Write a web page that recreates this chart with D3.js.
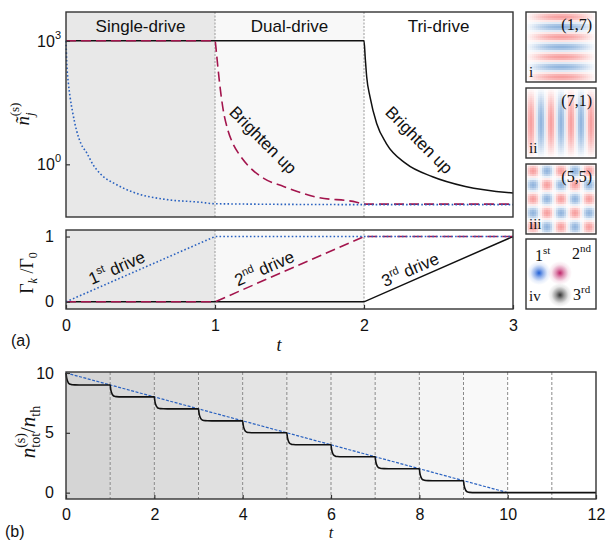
<!DOCTYPE html>
<html>
<head>
<meta charset="utf-8">
<script src="https://cdn.jsdelivr.net/npm/d3@7"></script>
<style>
  html, body { margin: 0; padding: 0; background: #fff; }
  svg { display: block; }
  text { font-family: "Liberation Sans", Arial, sans-serif; fill: #111; }
  .serif { font-family: "Liberation Serif", "DejaVu Serif", serif; }
</style>
</head>
<body>
<script>
// ---------- data ----------
// (a) upper: occupation of each mode vs. time (log scale)
const mode1T = [0, 0.005, 0.016, 0.027, 0.045, 0.07, 0.1, 0.139, 0.18, 0.228, 0.34, 0.45, 0.67, 0.9, 1, 2, 3];
const mode1N = [1000, 300, 93, 44, 18, 6.8, 3.2, 1.9, 1.0, 0.6, 0.32, 0.21, 0.14, 0.12, 0.11, 0.105, 0.105];
const mode2T = [0, 1, 1.01, 1.019, 1.035, 1.055, 1.085, 1.12, 1.17, 1.23, 1.33, 1.46, 1.68, 1.95, 2, 3];
const mode2N = [1000, 1000, 500, 234, 70, 21, 7, 3.2, 1.6, 0.87, 0.45, 0.29, 0.16, 0.12, 0.108, 0.108];
const mode3T = [0, 2, 2.008, 2.018, 2.04, 2.085, 2.15, 2.28, 2.46, 2.68, 3];
const mode3N = [1000, 1000, 400, 134, 44, 9.8, 3.2, 1.05, 0.5, 0.29, 0.2];

// (a) lower: drive strengths
const drive1T = [0, 1, 3];      const drive1G = [0, 1, 1];
const drive2T = [0, 1, 2, 3];   const drive2G = [0, 0, 1, 1];
const drive3T = [0, 2, 3];      const drive3G = [0, 0, 1];

const regionLabels = ["Single-drive", "Dual-drive", "Tri-drive"];
const regionFills = ["#e8e8e8", "#f8f8f8", "#ffffff"];

// mode patterns shown in the insets
const insetModes = [[1, 7], [7, 1], [5, 5]];
const insetTags = ["i", "ii", "iii"];

// (b) total occupation staircase
const stepStarts = [0, 1, 2, 3, 4, 5, 6, 7, 8, 9];
const stepLevels = [10, 9, 8, 7, 6, 5, 4, 3, 2, 1, 0];
const dropOffsets = [0, 0.01, 0.02, 0.035, 0.05, 0.07, 0.1, 0.14, 0.2, 0.3];
const dropFractions = [0, 0.3, 0.5, 0.68, 0.8, 0.89, 0.95, 0.98, 0.995, 1];
const idealT = [0, 10];
const idealN = [10, 0];
const bandShades = ["#d5d5d5", "#d9d9d9", "#dcdcdc", "#e0e0e0", "#e4e4e4",
                    "#e8e8e8", "#ececec", "#f0f0f0", "#f4f4f4", "#f9f9f9", "#ffffff", "#ffffff"];

const topYTicks = [1, 1000];
const midYTicks = [0, 1];
const midXTicks = [0, 1, 2, 3];
const botYTicks = [0, 5, 10];
const botXTicks = [0, 2, 4, 6, 8, 10, 12];

// ---------- colours ----------
const cBlue = "#2a62c0", cRed = "#a3154d", cBlack = "#111";

const svg = d3.select("body").append("svg").attr("width", 606).attr("height", 542);
svg.append("rect").attr("width", 606).attr("height", 542).attr("fill", "#fff");

// ---------- scales ----------
const xA = d3.scaleLinear().domain([0, 3]).range([66, 513]);
const yTop = d3.scaleLog().domain([Math.pow(10, -1.28), Math.pow(10, 3.70)]).range([217, 12]);
const yMid = d3.scaleLinear().domain([-0.11, 1.1]).range([309, 230]);
const xB = d3.scaleLinear().domain([0, 12]).range([66, 596]);
const yB = d3.scaleLinear().domain([-0.53, 10.08]).range([499, 372]);

const zip = (a, b) => a.map((v, i) => [v, b[i]]);
const intFmt = d3.format("d");

function panelBackground(yScale) {
  const [y0, y1] = yScale.range();
  svg.append("g").selectAll("rect").data(regionFills).join("rect")
    .attr("x", (d, i) => xA(i)).attr("width", xA(1) - xA(0))
    .attr("y", y1).attr("height", y0 - y1).attr("fill", d => d);
  svg.append("g").selectAll("line").data([1, 2]).join("line")
    .attr("x1", d => xA(d)).attr("x2", d => xA(d)).attr("y1", y1).attr("y2", y0)
    .attr("stroke", "#9a9a9a").attr("stroke-width", 1).attr("stroke-dasharray", "2,1.5");
}
function frame(xs, ys) {
  const [x0, x1] = xs.range(); const [y0, y1] = ys.range();
  svg.append("rect").attr("x", x0).attr("y", y1).attr("width", x1 - x0).attr("height", y0 - y1)
    .attr("fill", "none").attr("stroke", "#333").attr("stroke-width", 1.4);
}
function styleAxis(g) {
  g.select(".domain").remove();
  g.selectAll(".tick line").attr("stroke", "#333").attr("stroke-width", 1.2);
  g.selectAll(".tick text").attr("font-size", 16).attr("fill", "#111")
    .attr("font-family", '"Liberation Sans", Arial, sans-serif');
}

// ================= (a) upper panel =================
panelBackground(yTop);

const lineTop = d3.line().x(d => xA(d[0])).y(d => yTop(d[1])).curve(d3.curveMonotoneX);
svg.append("path").datum(zip(mode3T, mode3N)).attr("d", lineTop)
  .attr("fill", "none").attr("stroke", cBlack).attr("stroke-width", 1.5);
svg.append("path").datum(zip(mode2T, mode2N)).attr("d", lineTop)
  .attr("fill", "none").attr("stroke", cRed).attr("stroke-width", 1.6).attr("stroke-dasharray", "10,5");
svg.append("path").datum(zip(mode1T, mode1N)).attr("d", lineTop)
  .attr("fill", "none").attr("stroke", cBlue).attr("stroke-width", 1.6).attr("stroke-dasharray", "1.6,2.2");

frame(xA, yTop);

const gTopY = svg.append("g").attr("transform", `translate(${xA(0)},0)`)
  .call(d3.axisLeft(yTop).tickValues(topYTicks).tickSize(-4).tickFormat(""));
styleAxis(gTopY);
topYTicks.forEach(v => {
  const t = svg.append("text").attr("x", 61).attr("y", yTop(v) + 6).attr("text-anchor", "end").attr("font-size", 16);
  t.append("tspan").text("10");
  t.append("tspan").attr("font-size", 11).attr("dy", -8).text(String(Math.round(Math.log10(v))));
});

svg.append("g").selectAll("text").data(regionLabels).join("text")
  .attr("x", (d, i) => xA(i + 0.5)).attr("y", 32).attr("text-anchor", "middle")
  .attr("font-size", 17).text(d => d);

[[1.295, 3.1], [2.342, 3.1]].forEach(([t, n]) => {
  svg.append("text").attr("transform", `translate(${xA(t)},${yTop(n)}) rotate(45)`)
    .attr("text-anchor", "middle").attr("font-size", 17).text("Brighten up");
});

// y label: ñ_j^(s)
{
  const t = svg.append("text").attr("class", "serif")
    .attr("transform", "translate(29,114) rotate(-90)").attr("text-anchor", "middle").attr("font-size", 19);
  t.append("tspan").attr("font-style", "italic").text("ñ");
  t.append("tspan").attr("font-style", "italic").attr("font-size", 13).attr("dy", 5).text("j");
  t.append("tspan").attr("font-size", 13).attr("dx", -4).attr("dy", -15).text("(s)");
}

// ================= (a) lower panel =================
panelBackground(yMid);
const lineMid = d3.line().x(d => xA(d[0])).y(d => yMid(d[1]));
svg.append("path").datum(zip(drive3T, drive3G)).attr("d", lineMid)
  .attr("fill", "none").attr("stroke", cBlack).attr("stroke-width", 1.5);
svg.append("path").datum(zip(drive2T, drive2G)).attr("d", lineMid)
  .attr("fill", "none").attr("stroke", cRed).attr("stroke-width", 1.6).attr("stroke-dasharray", "10,5");
svg.append("path").datum(zip(drive1T, drive1G)).attr("d", lineMid)
  .attr("fill", "none").attr("stroke", cBlue).attr("stroke-width", 1.6).attr("stroke-dasharray", "1.6,2.2");
frame(xA, yMid);

const gMidY = svg.append("g").attr("transform", `translate(${xA(0)},0)`)
  .call(d3.axisLeft(yMid).tickValues(midYTicks).tickFormat(intFmt).tickSize(-4).tickPadding(12));
styleAxis(gMidY);
const gMidX = svg.append("g").attr("transform", `translate(0,${yMid.range()[0]})`)
  .call(d3.axisBottom(xA).tickValues(midXTicks).tickFormat(intFmt).tickSize(-4).tickPadding(11));
styleAxis(gMidX);

const slopeAngle = -Math.atan2(yMid(0) - yMid(1), xA(1) - xA(0)) * 180 / Math.PI;
[["1", "st", 0.37], ["2", "nd", 1.36], ["3", "rd", 2.34]].forEach(([n, sup, t]) => {
  const frac = t - Math.floor(t);
  const t0 = svg.append("text")
    .attr("transform", `translate(${xA(t)},${yMid(frac)}) rotate(${slopeAngle}) translate(0,-5)`)
    .attr("text-anchor", "middle").attr("font-size", 17);
  t0.append("tspan").text(n);
  t0.append("tspan").attr("font-size", 11).attr("dy", -7).text(sup);
  t0.append("tspan").attr("dy", 7).text(" drive");
});

// y label: Γ_k / Γ_0
{
  const t = svg.append("text").attr("class", "serif")
    .attr("transform", "translate(33,273) rotate(-90)").attr("text-anchor", "middle").attr("font-size", 18);
  t.append("tspan").text("Γ");
  t.append("tspan").attr("font-style", "italic").attr("font-size", 12).attr("dy", 4).text("k");
  t.append("tspan").attr("dy", -4).text(" /Γ");
  t.append("tspan").attr("font-size", 12).attr("dy", 4).text("0");
}
svg.append("text").attr("class", "serif").attr("x", 279).attr("y", 351)
  .attr("font-style", "italic").attr("font-size", 18).attr("text-anchor", "middle").text("t");
svg.append("text").attr("x", 11).attr("y", 346).attr("font-size", 16).text("(a)");

// ================= insets =================
const insetX = 526, insetSize = 70, insetYs = [12, 88, 164, 239];
const nGrid = 35, cell = insetSize / nGrid;
const modeColor = d3.scaleLinear().domain([-1, 0, 1]).range(["#93b6de", "#ffffff", "#f7a0a0"]);
const gridIdx = d3.range(nGrid * nGrid).map(k => ({ i: k % nGrid, j: Math.floor(k / nGrid) }));

insetModes.forEach(([mx, my], p) => {
  const g = svg.append("g").attr("transform", `translate(${insetX},${insetYs[p]})`);
  g.selectAll("rect").data(gridIdx).join("rect")
    .attr("x", d => d.i * cell).attr("y", d => d.j * cell)
    .attr("width", cell + 0.05).attr("height", cell + 0.05)
    .attr("shape-rendering", "crispEdges")
    .attr("fill", d => modeColor(Math.sin(Math.PI * mx * (d.i + 0.5) / nGrid) *
                                 Math.sin(Math.PI * my * (d.j + 0.5) / nGrid)));
  g.append("rect").attr("width", insetSize).attr("height", insetSize)
    .attr("fill", "none").attr("stroke", "#333").attr("stroke-width", 1.4);
  g.append("text").attr("class", "serif").attr("x", insetSize - 4).attr("y", 18)
    .attr("text-anchor", "end").attr("font-size", 16).text(`(${mx},${my})`);
  g.append("text").attr("class", "serif").attr("x", 3).attr("y", insetSize - 5)
    .attr("font-size", 15).text(insetTags[p]);
});

// inset iv: drive spots
{
  const defs = svg.append("defs");
  const spots = [
    { id: "spotBlue", c: "#1f5fd6", x: 13, y: 34 },
    { id: "spotRed", c: "#c0256a", x: 34, y: 34 },
    { id: "spotGray", c: "#333333", x: 34, y: 56 }
  ];
  spots.forEach(s => {
    const gr = defs.append("radialGradient").attr("id", s.id);
    gr.append("stop").attr("offset", "0%").attr("stop-color", s.c).attr("stop-opacity", 1);
    gr.append("stop").attr("offset", "35%").attr("stop-color", s.c).attr("stop-opacity", 0.5);
    gr.append("stop").attr("offset", "70%").attr("stop-color", s.c).attr("stop-opacity", 0.12);
    gr.append("stop").attr("offset", "100%").attr("stop-color", s.c).attr("stop-opacity", 0);
  });
  const g = svg.append("g").attr("transform", `translate(${insetX},${insetYs[3]})`);
  g.append("rect").attr("width", insetSize).attr("height", insetSize).attr("fill", "#fff");
  g.selectAll("circle").data(spots).join("circle")
    .attr("cx", d => d.x).attr("cy", d => d.y).attr("r", 12).attr("fill", d => `url(#${d.id})`);
  g.append("rect").attr("width", insetSize).attr("height", insetSize)
    .attr("fill", "none").attr("stroke", "#333").attr("stroke-width", 1.4);
  const lab = (x, y, n, s) => {
    const t = g.append("text").attr("class", "serif").attr("x", x).attr("y", y).attr("font-size", 16);
    t.append("tspan").text(n);
    t.append("tspan").attr("font-size", 11).attr("dy", -7).text(s);
  };
  lab(9, 22, "1", "st");
  lab(46, 20, "2", "nd");
  lab(47, 61, "3", "rd");
  g.append("text").attr("class", "serif").attr("x", 3).attr("y", 62).attr("font-size", 15).text("iv");
}

// ================= (b) =================
const [bY0, bY1] = yB.range();
svg.append("g").selectAll("rect").data(bandShades).join("rect")
  .attr("x", (d, i) => xB(i)).attr("width", xB(1) - xB(0))
  .attr("y", bY1).attr("height", bY0 - bY1).attr("fill", d => d);
svg.append("g").selectAll("line").data(d3.range(1, 12)).join("line")
  .attr("x1", d => xB(d)).attr("x2", d => xB(d)).attr("y1", bY1).attr("y2", bY0)
  .attr("stroke", "#8a8a8a").attr("stroke-width", 1).attr("stroke-dasharray", "3,2");

const stairPts = [];
stepStarts.forEach((s, k) => {
  const hi = stepLevels[k], lo = stepLevels[k + 1];
  dropOffsets.forEach((o, q) => stairPts.push([s + o, hi - (hi - lo) * dropFractions[q]]));
});
stairPts.push([12, stepLevels[stepLevels.length - 1]]);

svg.append("path").datum(zip(idealT, idealN))
  .attr("d", d3.line().x(d => xB(d[0])).y(d => yB(d[1])))
  .attr("fill", "none").attr("stroke", cBlue).attr("stroke-width", 1.2).attr("stroke-dasharray", "3,1.5");
svg.append("path").datum(stairPts)
  .attr("d", d3.line().x(d => xB(d[0])).y(d => yB(d[1])).curve(d3.curveMonotoneX))
  .attr("fill", "none").attr("stroke", cBlack).attr("stroke-width", 1.6);
frame(xB, yB);

const gBY = svg.append("g").attr("transform", `translate(${xB(0)},0)`)
  .call(d3.axisLeft(yB).tickValues(botYTicks).tickFormat(intFmt).tickSize(-4).tickPadding(12));
styleAxis(gBY);
const gBX = svg.append("g").attr("transform", `translate(0,${bY0})`)
  .call(d3.axisBottom(xB).tickValues(botXTicks).tickFormat(intFmt).tickSize(-4).tickPadding(10));
styleAxis(gBX);

// y label: n_tot^(s) / n_th
{
  const t = svg.append("text").attr("class", "serif")
    .attr("transform", "translate(35,432) rotate(-90)").attr("text-anchor", "middle").attr("font-size", 21);
  t.append("tspan").attr("font-style", "italic").text("n");
  t.append("tspan").attr("font-size", 14).attr("dy", 5).text("tot");
  t.append("tspan").attr("font-size", 14).attr("dx", -15).attr("dy", -15).text("(s)");
  t.append("tspan").attr("dy", 10).text("/");
  t.append("tspan").attr("font-style", "italic").text("n");
  t.append("tspan").attr("font-size", 14).attr("dy", 5).text("th");
}
svg.append("text").attr("class", "serif").attr("x", 331).attr("y", 538)
  .attr("font-style", "italic").attr("font-size", 16).attr("text-anchor", "middle").text("t");
svg.append("text").attr("x", 5).attr("y", 537).attr("font-size", 16).text("(b)");
</script>
</body>
</html>
